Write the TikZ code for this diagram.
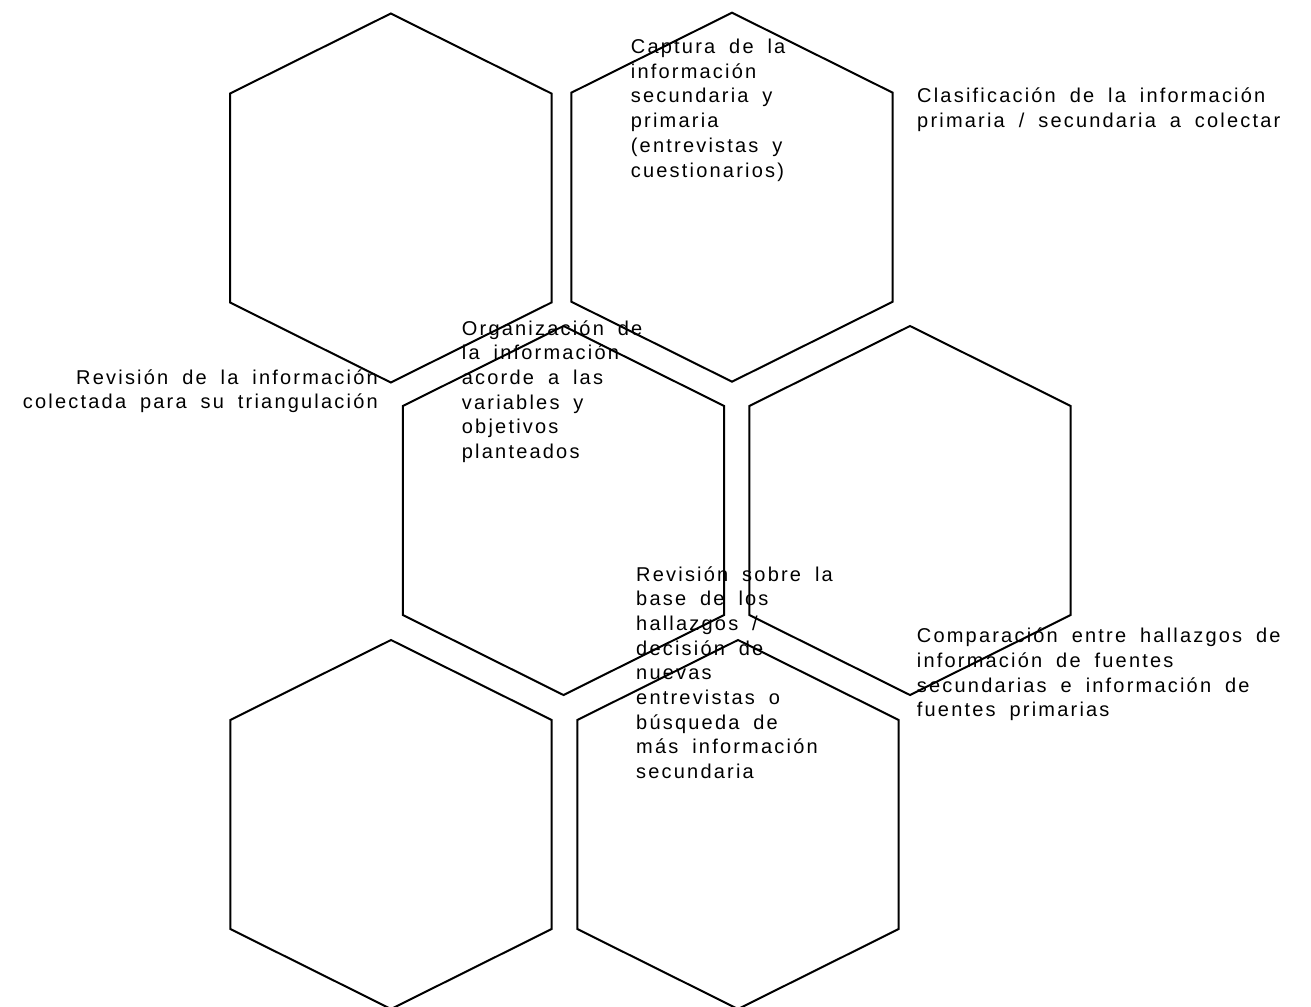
\documentclass[tikz,border=0pt]{standalone}
\usepackage{fontspec}
\setmainfont{Liberation Sans}[LetterSpace=11,WordSpace=1.8]
\begin{document}
\begin{tikzpicture}[x=1pt,y=-1pt,
    hexa/.style={draw,line width=2pt,line join=miter},
    txt/.style={inner sep=0pt,align=left,anchor=base west,
      font=\fontsize{20}{24.7}\selectfont}]
  \useasboundingbox (0,0) rectangle (1311,1006);
  % hexagons
  \foreach \n/\x/\y in {1/390.8/197.5, 2/732/196.7, 3/563.5/510,
                        4/910/510, 5/391/824, 6/738/824} {
    \coordinate (h\n) at (\x,\y);
    \draw[hexa] (h\n) ++(0,-184) -- ++(160.7,80) -- ++(0,209)
      -- ++(-160.7,80) -- ++(-160.7,-80) -- ++(0,-209) -- cycle;
  }
  % labels (placed at the baseline of their last line)
  \node[txt] (captura) at (630.7,177)
    {Captura de la\\información\\secundaria y\\primaria\\(entrevistas y\\cuestionarios)};
  \node[txt] (clasif) at (917,127.3)
    {Clasificación de la información\\primaria / secundaria a colectar};
  \node[txt,align=right,anchor=base east] (triang) at (378,408.7)
    {Revisión de la información\\colectada para su triangulación};
  \node[txt] (organiza) at (461.7,458.5)
    {Organización de\\la información\\acorde a las\\variables y\\objetivos\\planteados};
  \node[txt] (revbase) at (636,778.6)
    {Revisión sobre la\\base de los\\hallazgos /\\decisión de\\nuevas\\entrevistas o\\búsqueda de\\más información\\secundaria};
  \node[txt] (compara) at (916.7,716.7)
    {Comparación entre hallazgos de\\información de fuentes\\secundarias e información de\\fuentes primarias};
\end{tikzpicture}
\end{document}
